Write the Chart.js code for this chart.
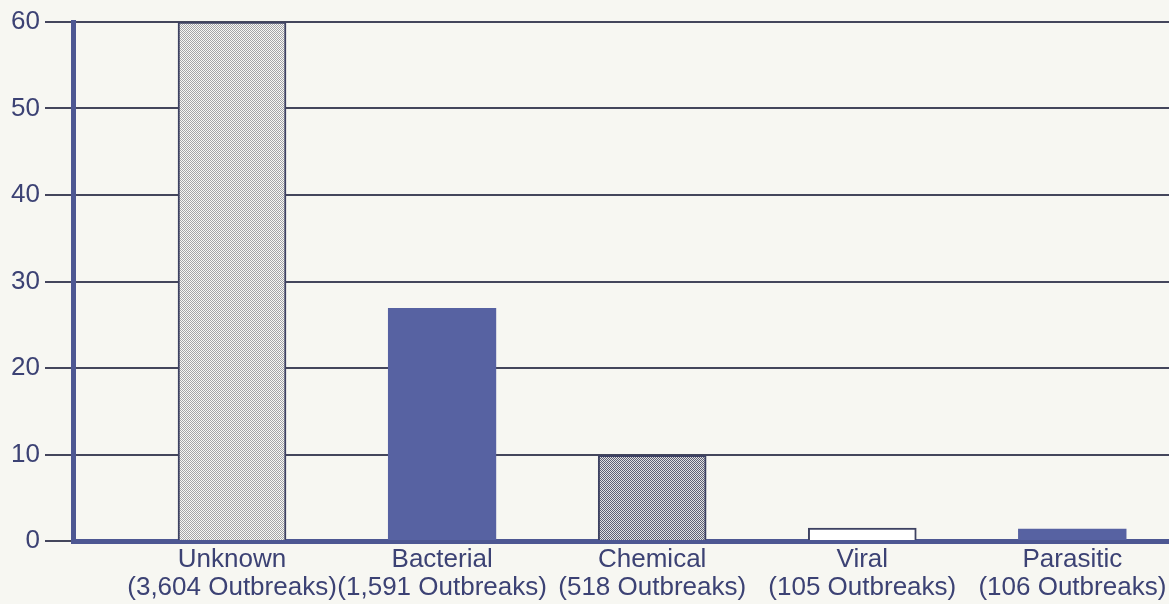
<!DOCTYPE html>
<html>
<head>
<meta charset="utf-8">
<script src="https://cdn.jsdelivr.net/npm/chart.js@4.4.1/dist/chart.umd.min.js"></script>
<style>
  html, body { margin: 0; padding: 0; background: #f7f7f2; }
  #wrap { width: 1169px; height: 604px; position: relative; }
</style>
</head>
<body>
<div id="wrap"><canvas id="outbreakChart"></canvas></div>
<script>
// Chart data
var categories = ["Unknown", "Bacterial", "Chemical", "Viral", "Parasitic"];
var outbreakCounts = ["(3,604 Outbreaks)", "(1,591 Outbreaks)", "(518 Outbreaks)", "(105 Outbreaks)", "(106 Outbreaks)"];
var percentValues = [60, 26.9, 9.9, 1.5, 1.4];
var yTicks = [0, 10, 20, 30, 40, 50, 60];

var navy = "#3c4274";
var barBlue = "#5762a2";
var edge = "#3e4262";

// small fill patterns for the shaded bars
function makePattern(size, dark, light, dots) {
    var c = document.createElement("canvas");
    c.width = size; c.height = size;
    var g = c.getContext("2d");
    g.fillStyle = light;
    g.fillRect(0, 0, size, size);
    g.fillStyle = dark;
    dots.forEach(function (d) { g.fillRect(d[0], d[1], 1, 1); });
    return g.createPattern(c, "repeat");
}
var ctx = document.getElementById("outbreakChart").getContext("2d");
var lightDots = makePattern(2, "#a4a4a8", "#f8f8f6", [[0, 0], [1, 1]]);
var darkDots = makePattern(2, "#5f6174", "#e2e2e4", [[0, 0], [1, 1]]);

var fills = [lightDots, barBlue, darkDots, "#ffffff", barBlue];
var borders = [edge, barBlue, edge, edge, barBlue];

var chartData = {
    datasets: [{
        data: percentValues.map(function (v, i) { return { x: i + 1, y: v }; }),
        backgroundColor: fills,
        borderColor: borders,
        borderWidth: 2,
        barThickness: 108
    }]
};

var chartOptions = {
    responsive: true,
    maintainAspectRatio: false,
    animation: false,
    layout: { padding: { top: 22, right: 0, left: 0, bottom: 0 } },
    plugins: { legend: { display: false }, tooltip: { enabled: false } },
    scales: {
        x: {
            type: "linear",
            offset: false,
            min: 0.243,
            max: 5.46,
            grid: { display: false, drawTicks: false, offset: false },
            border: { display: true, color: "#4d5792", width: 5 },
            afterBuildTicks: function (axis) {
                axis.ticks = categories.map(function (c, i) { return { value: i + 1 }; });
            },
            afterFit: function (axis) {
                axis.height = 63;
                axis.paddingLeft = 0;
                axis.paddingRight = 0;
            },
            ticks: {
                autoSkip: false,
                maxRotation: 0,
                padding: 5,
                color: navy,
                font: { family: "'Liberation Sans', Arial, Helvetica, sans-serif", size: 26, lineHeight: 1.08 },
                callback: function (value) {
                    var i = Math.round(value) - 1;
                    return [categories[i], outbreakCounts[i]];
                }
            }
        },
        y: {
            min: 0,
            max: 60,
            afterBuildTicks: function (axis) {
                axis.ticks = yTicks.map(function (v) { return { value: v }; });
            },
            afterFit: function (axis) { axis.width = 73; },
            grid: { color: "#44465c", lineWidth: 2, tickLength: 28, drawTicks: true },
            border: { display: true, color: "#4d5792", width: 5 },
            ticks: {
                padding: 5,
                color: navy,
                font: { family: "'Liberation Sans', Arial, Helvetica, sans-serif", size: 26 }
            }
        }
    }
};

var config = {
    type: "bar",
    data: chartData,
    options: chartOptions
};

var outbreakChart = new Chart(ctx, config);
</script>
</body>
</html>
